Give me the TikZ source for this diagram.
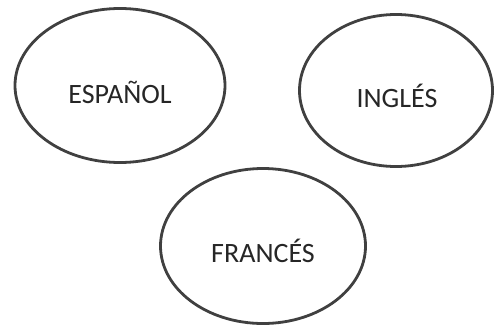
\documentclass[tikz,border=0pt]{standalone}
\usepackage{fontspec}
\setmainfont{Carlito}
\begin{document}
\begin{tikzpicture}[x=1pt,y=-1pt,
  oval/.style={draw=black!75,line width=2.8pt},
  lbl/.style={font=\fontsize{28}{32}\selectfont,text=black!85,inner sep=0pt}]
\useasboundingbox (0,0) rectangle (498,327);
\draw[oval] (120,85.5) ellipse [x radius=105, y radius=77];
\draw[oval] (396,90.5) ellipse [x radius=96.5, y radius=76];
\draw[oval] (263,246) ellipse [x radius=102.5, y radius=77.5];
\node[lbl] (es) at (120,92) {ESPAÑOL};
\node[lbl] (en) at (397,96) {INGLÉS};
\node[lbl] (fr) at (263,251) {FRANCÉS};
\end{tikzpicture}
\end{document}
